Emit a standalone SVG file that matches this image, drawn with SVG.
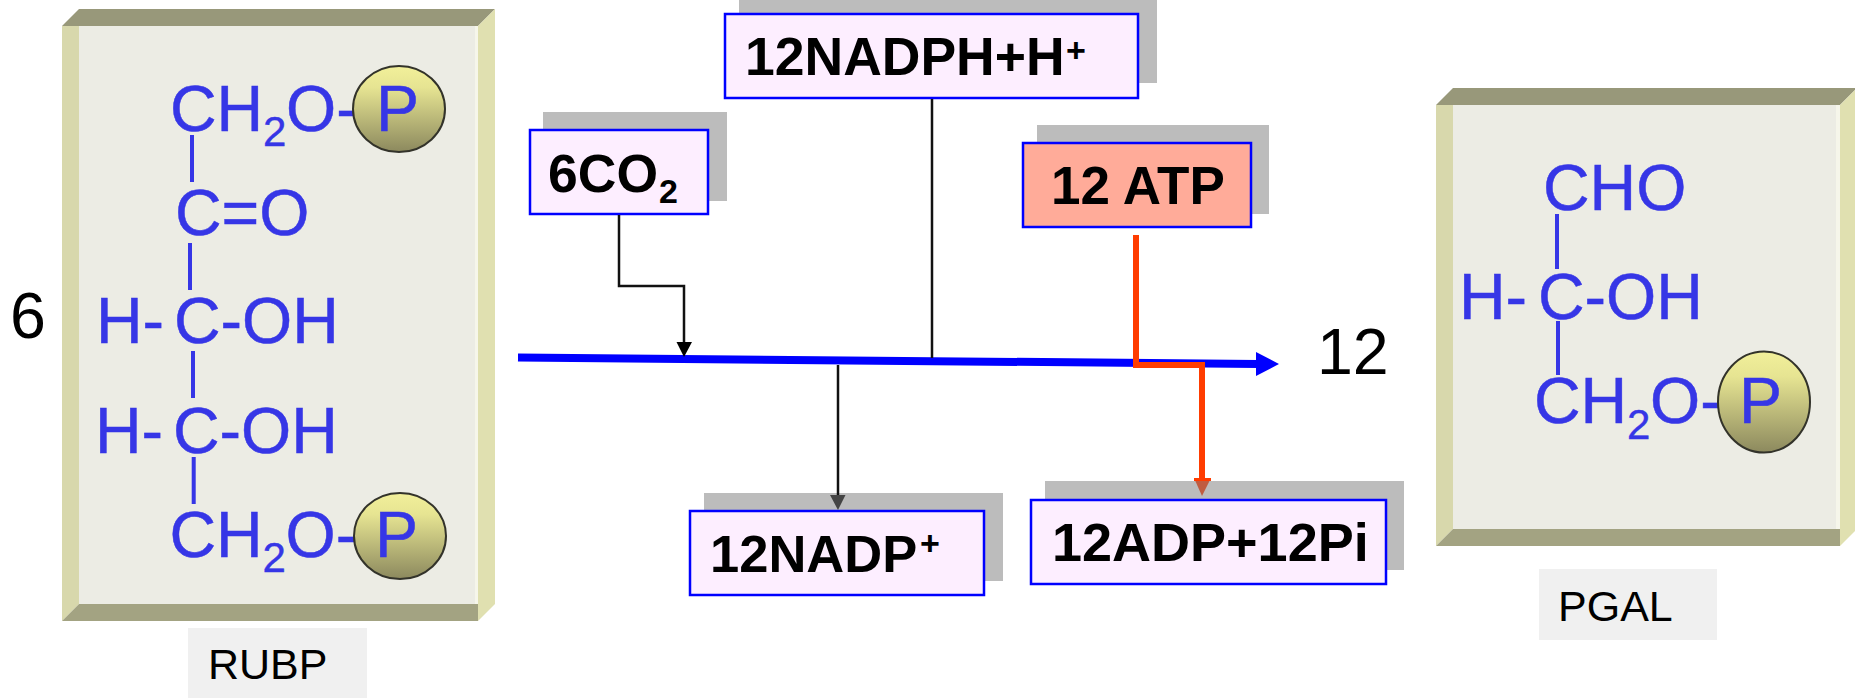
<svg xmlns="http://www.w3.org/2000/svg" width="1855" height="698" viewBox="0 0 1855 698">
<style>
text{font-family:"Liberation Sans",Arial,sans-serif}
.m{font-size:64.500px;fill:#3636e6;stroke:#3636e6;stroke-width:.5}
.s{font-size:42px;fill:#3636e6;stroke:#3636e6;stroke-width:.4}
.b{stroke:#3636e6;stroke-width:4;fill:none}
.k{font-size:64.500px;fill:#000}
.l{font-size:43px;fill:#000}
.t{font-size:53.500px;font-weight:bold;fill:#000}
.ts{font-size:34px;font-weight:bold;fill:#000}
.sh{fill:#bcbcbc}
.bx{fill:#fdeeff;stroke:#0000ff;stroke-width:2.5}
.cap{fill:#f0f0f0}
.face{fill:#ecece4}
.top{fill:#98987a}
.bot{fill:#a3a382}
.lef{fill:#d8d8ac}
.rig{fill:#e0e0b0}
.hi{fill:#f6f6ea}
.pe{fill:url(#pg);stroke:#33332a;stroke-width:2}
.c{fill:none;stroke:#111;stroke-width:2.5}
.r{fill:none;stroke:#ff3c00;stroke-width:6}
</style>
<defs>
<linearGradient id="pg" x1="0" y1="0" x2="0" y2="1">
<stop offset="0" stop-color="#f2f09a"/><stop offset="0.25" stop-color="#e6e492"/><stop offset="1" stop-color="#8c895e"/>
</linearGradient>
</defs>

<g id="rubp-panel">
<rect class="face" x="79" y="26" width="399" height="578"/>
<rect class="hi" x="475" y="26" width="3" height="578"/>
<polygon class="top" points="62,26 79,9 495,9 478,26"/>
<polygon class="lef" points="62,26 79,26 79,604 62,621"/>
<polygon class="rig" points="478,26 495,9 495,604 478,621"/>
<polygon class="bot" points="62,621 79,604 478,604 478,621"/>
<path class="b" d="M192 135V182M190 243V290M193 351V398M193.700 457V504"/>
<text class="m" x="170" y="131">CH</text><text class="s" x="263" y="146">2</text><text class="m" x="286" y="131">O-</text>
<ellipse class="pe" cx="399" cy="109" rx="46" ry="43"/>
<text class="m" x="376" y="131">P</text>
<text class="m" x="175" y="235">C=O</text>
<text class="m" x="96" y="343">H-</text><text class="m" x="174" y="343">C-OH</text>
<text class="m" x="95" y="453">H-</text><text class="m" x="173" y="453">C-OH</text>
<text class="m" x="169.500" y="557">CH</text><text class="s" x="262.500" y="572">2</text><text class="m" x="285.500" y="557">O-</text>
<ellipse class="pe" cx="400" cy="536" rx="46" ry="43"/>
<text class="m" x="375" y="557">P</text>
</g>

<g id="rubp-count"><text class="k" x="10" y="338">6</text></g>
<g id="rubp-label"><rect class="cap" x="188" y="628" width="179" height="70"/><text class="l" x="208" y="679">RUBP</text></g>

<g id="co2"><rect class="sh" x="543" y="112" width="184" height="89"/><rect class="bx" x="530" y="130" width="178" height="84"/>
<text class="t" x="548" y="192">6CO</text><text class="ts" x="659" y="203">2</text></g>

<g id="nadph"><rect class="sh" x="739" y="0" width="418" height="83"/><rect class="bx" x="725" y="14" width="413" height="84"/>
<text class="t" x="745" y="75">12NADPH+H</text><text class="ts" x="1066" y="62">+</text></g>

<g id="atp"><rect class="sh" x="1037" y="125" width="232" height="89"/><rect x="1023" y="143" width="228" height="84" fill="#ffab99" stroke="#0000ff" stroke-width="2.500"/>
<text class="t" x="1051" y="204" style="font-size:53px">12 ATP</text></g>

<g id="nadp"><rect class="sh" x="704" y="493" width="299" height="88"/><rect class="bx" x="690" y="511" width="294" height="84"/>
<text class="t" x="710" y="572" style="font-size:52.500px">12NADP</text><text class="ts" x="920" y="555">+</text></g>

<g id="adp"><rect class="sh" x="1045" y="481" width="359" height="89"/><rect class="bx" x="1031" y="500" width="355" height="84"/>
<text class="t" x="1052" y="561" style="font-size:54px">12ADP+12Pi</text></g>

<g id="pgal-panel">
<rect class="face" x="1453" y="105" width="387" height="424"/>
<rect class="hi" x="1836" y="105" width="4" height="424"/>
<polygon class="top" points="1436,105 1453,88 1857,88 1840,105"/>
<polygon class="lef" points="1436,105 1453,105 1453,529 1436,546"/>
<polygon class="rig" points="1840,105 1857,88 1857,529 1840,546"/>
<polygon class="bot" points="1436,546 1453,529 1840,529 1840,546"/>
<path class="b" d="M1557 214V269M1558 321V375"/>
<text class="m" x="1543" y="210">CHO</text>
<text class="m" x="1459" y="319">H-</text><text class="m" x="1538" y="319">C-OH</text>
<text class="m" x="1534" y="423">CH</text><text class="s" x="1627" y="439">2</text><text class="m" x="1650" y="423">O-</text>
<ellipse class="pe" cx="1764" cy="402" rx="46" ry="50.500"/>
<text class="m" x="1739" y="423">P</text>
</g>

<g id="pgal-count"><text class="k" x="1317" y="374">12</text></g>
<g id="pgal-label"><rect class="cap" x="1539" y="569" width="178" height="71"/><text class="l" x="1558" y="621">PGAL</text></g>

<g id="connectors">
<line x1="518" y1="357.500" x2="1258" y2="364" stroke="#0000ff" stroke-width="8"/>
<polygon points="1256,352 1279,364 1256,376" fill="#0000ff"/>
<path class="c" d="M619 215V286H684V343"/>
<polygon points="676.500,342 692,342 684,357" fill="#000"/>
<path class="c" d="M932 99V358"/>
<path class="c" d="M838 365V496" stroke="#222"/>
<polygon points="830,495 845.500,495 838,510" fill="#444"/>
<path class="r" d="M1136 235V365H1202V479"/>
<polygon points="1194,478 1211,478 1202,496" fill="#c05c40"/>
<rect x="1194" y="478" width="17" height="3" fill="#ff3c00"/>
</g>
</svg>
